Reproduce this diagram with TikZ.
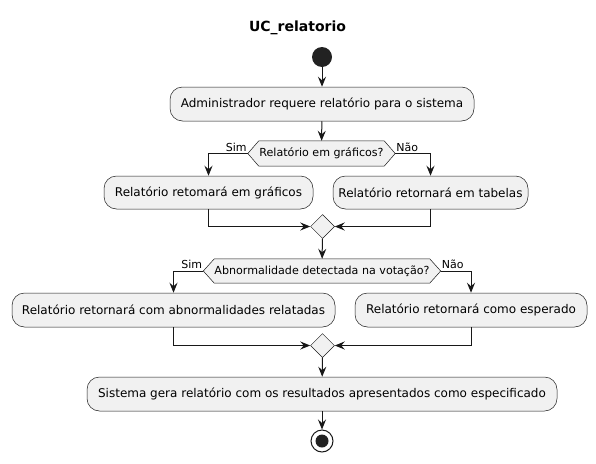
\documentclass[tikz,border=0pt]{standalone}
\usepackage{fontspec}
\setmainfont{DejaVu Sans}
\usetikzlibrary{arrows.meta,shapes.geometric,calc}
\definecolor{boxfill}{HTML}{F1F1F1}
\definecolor{linec}{HTML}{181818}
\definecolor{dotc}{HTML}{222222}
\tikzset{
  actbox/.style={draw=linec, line width=0.5pt, fill=boxfill, rounded corners=12.5pt,
    minimum height=34pt, inner sep=0pt, font=\fontsize{12}{14}\selectfont},
  hexlabel/.style={draw=none, minimum height=25pt, inner sep=0pt, font=\fontsize{11.1}{12}\selectfont},
  hexshape/.style={draw=linec, line width=0.5pt, fill=boxfill},
  mergebox/.style={diamond, draw=linec, line width=0.5pt, fill=boxfill, minimum width=24pt,
    minimum height=24pt, inner sep=0pt, aspect=1},
  arr/.style={draw=linec, line width=1pt, -{Stealth[length=10pt,width=8pt,inset=3.5pt]}},
  edgelabel/.style={inner sep=0pt, font=\fontsize{11}{12}\selectfont}
}
\begin{document}
\begin{tikzpicture}[x=1pt,y=-1pt]
\useasboundingbox (0,0) rectangle (596,463);
\node[font=\fontsize{14}{16}\selectfont\bfseries] (title) at (297.5,28) {UC\_relatorio};
\node[circle, fill=dotc, minimum size=20pt, inner sep=0pt] (start) at (322,57) {};
\node[actbox, minimum width=304pt] (b1) at (322,104) {Administrador requere relatório para o sistema};
% decision 1
\node[hexlabel, minimum width=125pt] (h1) at (321.5,153.5) {Relatório em gráficos?};
\coordinate (h1l) at ([xshift=-11pt]h1.west);
\coordinate (h1r) at ([xshift=11pt]h1.east);
\path[hexshape] (h1l) -- (h1.north west) -- (h1.north east) -- (h1r) -- (h1.south east) -- (h1.south west) -- cycle;
\node[hexlabel, minimum width=125pt] at (h1) {Relatório em gráficos?};
\node[edgelabel, anchor=base east] (s1) at ([shift={(-1,-2.5)}]h1l) {Sim};
\node[edgelabel, anchor=base west] (n1) at ([shift={(1,-2.5)}]h1r) {Não};
\node[actbox, minimum width=209pt, minimum height=33pt] (b2) at (208.5,192.5) {Relatório retomará em gráficos};
\node[actbox, minimum width=195pt, minimum height=33pt] (b3) at (430.5,192.5) {Relatório retornará em tabelas};
\node[mergebox] (m1) at (322.5,226.5) {};
% decision 2
\node[hexlabel, minimum width=214pt, minimum height=24pt] (h2) at (322,271) {Abnormalidade detectada na votação?};
\coordinate (h2l) at ([xshift=-11pt]h2.west);
\coordinate (h2r) at ([xshift=11pt]h2.east);
\path[hexshape] (h2l) -- (h2.north west) -- (h2.north east) -- (h2r) -- (h2.south east) -- (h2.south west) -- cycle;
\node[hexlabel, minimum width=214pt, minimum height=24pt] at (h2) {Abnormalidade detectada na votação?};
\node[edgelabel, anchor=base east] (s2) at ([shift={(-1,-2.5)}]h2l) {Sim};
\node[edgelabel, anchor=base west] (n2) at ([shift={(1,-2.5)}]h2r) {Não};
\node[actbox, minimum width=323pt] (b4) at (173.5,310) {Relatório retornará com abnormalidades relatadas};
\node[actbox, minimum width=232pt] (b5) at (471,310) {Relatório retornará como esperado};
\node[mergebox] (m2) at (322.5,345.5) {};
\node[actbox, minimum width=470pt] (b6) at (322,394) {Sistema gera relatório com os resultados apresentados como especificado};
\node[circle, draw=linec, line width=1pt, fill=white, minimum size=22pt, inner sep=0pt] (stop) at (322,441) {};
\node[circle, fill=dotc, minimum size=13pt, inner sep=0pt] (stopdot) at (stop) {};
% connectors
\draw[arr] (start) -- (b1);
\draw[arr] (b1) -- (h1);
\draw[arr] (h1l) -| (b2.north);
\draw[arr] (h1r) -| (b3.north);
\draw[arr] (b2.south) |- (m1.west);
\draw[arr] (b3.south) |- (m1.east);
\draw[arr] (m1) -- (h2);
\draw[arr] (h2l) -| (b4.north);
\draw[arr] (h2r) -| (b5.north);
\draw[arr] (b4.south) |- (m2.west);
\draw[arr] (b5.south) |- (m2.east);
\draw[arr] (m2) -- (b6);
\draw[arr] (b6) -- (stop);
\end{tikzpicture}
\end{document}
